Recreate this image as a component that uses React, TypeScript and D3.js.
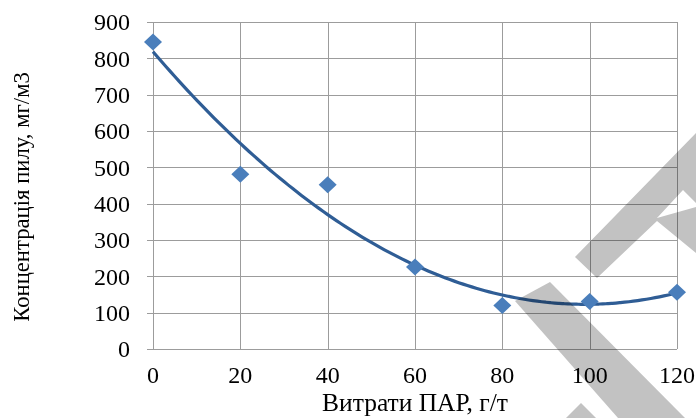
import React from 'react';
import * as d3 from 'd3';

// витрати ПАР (г/т) і концентрація пилу (мг/м3)
const parDose = [0, 20, 40, 60, 80, 100, 120];
const dustConc = [845, 481, 452, 226, 120, 131, 156];

const xTitle = 'Витрати ПАР, г/т';
const yTitle = 'Концентрація пилу, мг/м3';

const W = 696;
const H = 418;
const margin = { top: 22, right: 19, bottom: 69, left: 153 };
const FONT = '"Liberation Serif", "Times New Roman", serif';

// поліноміальний тренд 2-го порядку (МНК), як у Excel
function quadFit(xs: number[], ys: number[]) {
  const n = xs.length;
  const s = (f: (x: number, y: number) => number) => d3.sum(xs, (x, i) => f(x, ys[i]));
  const m = [
    [n, s((x) => x), s((x) => x * x)],
    [s((x) => x), s((x) => x * x), s((x) => x ** 3)],
    [s((x) => x * x), s((x) => x ** 3), s((x) => x ** 4)]
  ];
  const r = [s((_, y) => y), s((x, y) => x * y), s((x, y) => x * x * y)];
  // Гаусс
  for (let i = 0; i < 3; i++) {
    for (let k = i + 1; k < 3; k++) {
      const f = m[k][i] / m[i][i];
      for (let j = i; j < 3; j++) m[k][j] -= f * m[i][j];
      r[k] -= f * r[i];
    }
  }
  const c = [0, 0, 0];
  for (let i = 2; i >= 0; i--) {
    let acc = r[i];
    for (let j = i + 1; j < 3; j++) acc -= m[i][j] * c[j];
    c[i] = acc / m[i][i];
  }
  return (x: number) => c[0] + c[1] * x + c[2] * x * x;
}

const App = () => {
  const width = W - margin.left - margin.right;
  const height = H - margin.top - margin.bottom;

  const x = d3.scaleLinear().domain([0, 120]).range([0, width]);
  const y = d3.scaleLinear().domain([0, 900]).range([height, 0]);

  const trend = quadFit(parDose, dustConc);
  const trendPts = d3.range(0, 120.5, 1).map((v) => [v, trend(v)] as [number, number]);
  const line = d3
    .line<[number, number]>()
    .x((d) => x(d[0]))
    .y((d) => y(d[1]))
    .curve(d3.curveMonotoneX);

  const gridColor = '#9c9c9c';

  return (
    <svg
      width={W}
      height={H}
      style={{ position: 'absolute', left: 0, top: 0, background: '#fff' }}
      fontFamily={FONT}
    >
      <g transform={`translate(${margin.left},${margin.top})`}>
        {/* horizontal grid + ticks */}
        {y.ticks(10).map((t) => (
          <g key={'h' + t}>
            <line x1={-6} x2={width} y1={Math.round(y(t)) + 0.5} y2={Math.round(y(t)) + 0.5} stroke={gridColor} />
            <text x={-23} y={y(t)} dy="0.35em" textAnchor="end" fontSize={24} fill="#000">
              {t}
            </text>
          </g>
        ))}
        {/* vertical grid */}
        {x.ticks(6).map((t) => (
          <g key={'v' + t}>
            <line x1={Math.round(x(t)) + 0.5} x2={Math.round(x(t)) + 0.5} y1={0} y2={height} stroke={gridColor} />
            <text x={x(t)} y={height + 34} textAnchor="middle" fontSize={24} fill="#000">
              {t}
            </text>
          </g>
        ))}

        {/* trend line */}
        <path d={line(trendPts) || ''} fill="none" stroke="#2f5d95" strokeWidth={3.2} />

        {/* markers */}
        {parDose.map((d, i) => {
          const cx = x(d);
          const cy = y(dustConc[i]);
          return (
            <path
              key={'m' + i}
              d={`M${cx - 9},${cy}L${cx},${cy - 8.5}L${cx + 9},${cy}L${cx},${cy + 8.5}Z`}
              fill="#4a7ebb"
            />
          );
        })}
      </g>

      {/* axis titles */}
      <text x={margin.left + width / 2} y={411} textAnchor="middle" fontSize={25.5} fill="#000">
        {xTitle}
      </text>
      <text
        transform={`translate(29,197) rotate(-90)`}
        textAnchor="middle"
        fontSize={22.7}
        fill="#000"
      >
        {yTitle}
      </text>

      {/* watermark */}
      <g fill="#c2c2c2" style={{ mixBlendMode: 'multiply' }}>
        <polygon points="575,257 696,133 696,203 683,190 657,218 696,207 696,253 657,221 597,278" />
        <polygon points="515,301 550,282 685,418 618,418" />
        <polygon points="566,418 581,403 596,418" />
      </g>
    </svg>
  );
};

export default App;
